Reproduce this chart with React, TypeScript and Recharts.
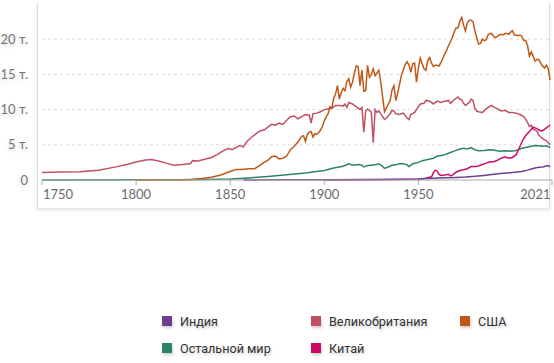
import React from 'react';
import { LineChart, Line, XAxis, YAxis, CartesianGrid } from 'recharts';

type Pt = [number, number];

const xTicks = [1750, 1800, 1850, 1900, 1950, 2021];
const yTicks = [0, 5, 10, 15, 20];

const indiaSeries: Pt[] = [
  [1857, 0], [1870, 0.02], [1880, 0.03], [1900, 0.05], [1920, 0.08], [1940, 0.1], [1950, 0.15],
  [1960, 0.27], [1970, 0.37], [1975, 0.42], [1980, 0.52], [1985, 0.65], [1990, 0.8], [1995, 0.95],
  [2000, 1.05], [2005, 1.2], [2008, 1.4], [2010, 1.55], [2012, 1.7], [2014, 1.8], [2016, 1.85],
  [2018, 2.0], [2019, 2.05], [2020, 1.85],
];

const ukSeries: Pt[] = [
  [1750, 1.08], [1760, 1.12], [1770, 1.18], [1780, 1.4], [1790, 1.9], [1795, 2.2], [1800, 2.55],
  [1805, 2.85], [1808, 2.9], [1812, 2.7], [1816, 2.4], [1820, 2.1], [1825, 2.2], [1829, 2.35],
  [1830, 2.75], [1833, 2.7], [1836, 2.9], [1840, 3.2], [1843, 3.6], [1846, 4.1], [1849, 4.5],
  [1851, 4.3], [1853, 4.6], [1855, 4.9], [1857, 4.7], [1859, 5.5], [1861, 6.0], [1863, 6.4],
  [1866, 7.0], [1868, 7.1], [1870, 7.5], [1872, 7.9], [1874, 7.8], [1876, 8.1], [1878, 7.9],
  [1880, 8.5], [1882, 9.0], [1884, 9.1], [1886, 8.7], [1888, 9.0], [1890, 9.3], [1892, 9.2],
  [1893, 8.1], [1894, 9.4], [1896, 9.5], [1898, 9.7], [1900, 10.0], [1902, 10.1], [1904, 10.2],
  [1906, 10.6], [1908, 10.6], [1910, 10.5], [1911, 10.8], [1912, 10.3], [1913, 11.0], [1915, 10.8],
  [1917, 10.4], [1919, 10.0], [1920, 10.3], [1921, 6.8], [1922, 9.8], [1923, 10.1], [1924, 9.9],
  [1925, 9.6], [1926, 5.3], [1927, 10.0], [1928, 9.6], [1929, 9.8], [1930, 9.4], [1931, 9.0],
  [1932, 8.6], [1933, 8.8], [1935, 9.4], [1936, 9.9], [1937, 9.8], [1938, 9.4], [1940, 9.3],
  [1942, 9.5], [1944, 8.8], [1945, 8.6], [1946, 9.3], [1948, 9.6], [1950, 10.4], [1951, 10.8],
  [1953, 10.9], [1954, 11.3], [1956, 11.2], [1958, 10.8], [1960, 11.2], [1962, 11.0], [1964, 11.2],
  [1966, 11.3], [1967, 10.9], [1969, 11.4], [1971, 11.8], [1972, 11.5], [1973, 11.4], [1974, 10.9],
  [1975, 10.6], [1977, 11.0], [1978, 11.5], [1979, 11.3], [1980, 10.2], [1981, 9.8], [1982, 9.7],
  [1984, 9.6], [1986, 10.1], [1987, 10.3], [1989, 10.6], [1990, 10.4], [1992, 10.1], [1994, 9.8],
  [1996, 9.9], [1998, 9.6], [2000, 9.6], [2002, 9.5], [2004, 9.3], [2006, 9.0], [2007, 8.6],
  [2008, 8.2], [2009, 7.6], [2010, 7.8], [2011, 7.2], [2012, 7.1], [2013, 6.9], [2014, 6.4],
  [2015, 6.1], [2016, 5.9], [2017, 5.7], [2018, 5.6], [2019, 5.3], [2020, 5.0],
];

const usaSeries: Pt[] = [
  [1800, 0], [1825, 0.05], [1830, 0.1], [1835, 0.2], [1840, 0.4], [1845, 0.7], [1850, 1.2],
  [1853, 1.5], [1856, 1.5], [1860, 1.6], [1863, 1.6], [1866, 2.1], [1868, 2.5], [1870, 2.8],
  [1872, 3.3], [1874, 3.4], [1876, 3.0], [1878, 3.1], [1880, 3.4], [1882, 4.3], [1884, 4.8],
  [1886, 5.4], [1888, 6.2], [1889, 6.3], [1890, 5.5], [1891, 6.5], [1892, 6.8], [1893, 6.9],
  [1894, 6.1], [1895, 6.6], [1896, 6.5], [1897, 6.7], [1898, 7.1], [1899, 7.6], [1900, 8.4],
  [1901, 9.0], [1902, 9.4], [1903, 10.4], [1904, 10.2], [1905, 11.6], [1906, 12.2], [1907, 13.4],
  [1908, 11.5], [1909, 12.4], [1910, 13.0], [1911, 12.7], [1912, 14.0], [1913, 14.4], [1914, 13.2],
  [1915, 13.9], [1916, 15.2], [1917, 16.2], [1918, 16.1], [1919, 13.4], [1920, 15.6], [1921, 12.6],
  [1922, 12.7], [1923, 16.3], [1924, 14.6], [1925, 15.0], [1926, 15.8], [1927, 14.8], [1928, 15.2],
  [1929, 15.6], [1930, 13.9], [1931, 11.8], [1932, 9.7], [1933, 10.2], [1934, 10.8], [1935, 11.3],
  [1936, 12.8], [1937, 13.4], [1938, 11.3], [1939, 12.3], [1940, 13.6], [1941, 14.9], [1942, 15.6],
  [1943, 16.4], [1944, 16.8], [1945, 16.3], [1946, 15.3], [1947, 16.5], [1948, 16.6], [1949, 13.9],
  [1950, 15.9], [1951, 17.3], [1952, 16.5], [1953, 15.8], [1954, 15.6], [1955, 17.0], [1956, 17.4],
  [1957, 16.6], [1958, 16.1], [1959, 16.3], [1960, 16.3], [1961, 16.2], [1962, 16.7], [1963, 17.3],
  [1964, 17.9], [1965, 18.4], [1966, 19.1], [1967, 19.6], [1968, 20.2], [1969, 21.0], [1970, 21.6],
  [1971, 21.6], [1972, 22.5], [1973, 23.1], [1974, 22.0], [1975, 21.2], [1976, 22.3], [1977, 22.7],
  [1978, 22.7], [1979, 22.5], [1980, 21.2], [1981, 20.2], [1982, 19.3], [1983, 19.4], [1984, 20.0],
  [1985, 19.8], [1986, 19.9], [1987, 20.6], [1988, 20.8], [1989, 20.8], [1990, 20.4], [1991, 20.2],
  [1992, 20.4], [1993, 20.6], [1994, 20.7], [1995, 20.6], [1996, 20.8], [1997, 20.8], [1998, 20.7],
  [1999, 21.0], [2000, 21.2], [2001, 20.6], [2002, 20.6], [2003, 20.5], [2004, 20.6], [2005, 20.4],
  [2006, 19.8], [2007, 19.8], [2008, 19.1], [2009, 17.6], [2010, 18.2], [2011, 17.6], [2012, 16.9],
  [2013, 17.1], [2014, 17.1], [2015, 16.6], [2016, 16.2], [2017, 15.9], [2018, 16.3], [2019, 15.8],
  [2020, 14.2],
];

const restSeries: Pt[] = [
  [1750, 0], [1800, 0.02], [1830, 0.05], [1850, 0.14], [1860, 0.3], [1870, 0.5], [1880, 0.75],
  [1890, 1.0], [1900, 1.35], [1905, 1.7], [1910, 1.95], [1913, 2.3], [1915, 2.1], [1918, 2.2],
  [1920, 2.1], [1921, 1.85], [1923, 2.05], [1925, 2.1], [1927, 2.15], [1929, 2.3], [1931, 1.95],
  [1932, 1.65], [1934, 1.85], [1936, 2.1], [1938, 2.15], [1940, 2.3], [1942, 2.3], [1944, 2.15],
  [1945, 1.9], [1947, 2.3], [1950, 2.5], [1952, 2.75], [1955, 2.9], [1958, 3.1], [1960, 3.4],
  [1963, 3.5], [1966, 3.8], [1969, 4.1], [1972, 4.4], [1974, 4.5], [1976, 4.4], [1978, 4.6],
  [1980, 4.3], [1982, 4.15], [1985, 4.2], [1988, 4.3], [1990, 4.25], [1993, 4.1], [1996, 4.15],
  [1999, 4.1], [2002, 4.2], [2005, 4.5], [2008, 4.7], [2010, 4.8], [2012, 4.9], [2014, 4.85],
  [2016, 4.8], [2018, 4.85], [2020, 4.6],
];

const chinaSeries: Pt[] = [
  [1900, 0], [1930, 0.03], [1950, 0.1], [1954, 0.25], [1957, 0.45], [1958, 1.05], [1959, 1.4],
  [1960, 1.25], [1961, 0.8], [1962, 0.65], [1964, 0.7], [1966, 0.8], [1967, 0.6], [1968, 0.65],
  [1970, 1.1], [1972, 1.35], [1974, 1.45], [1976, 1.6], [1978, 1.9], [1980, 1.9], [1982, 2.0],
  [1984, 2.2], [1986, 2.4], [1988, 2.6], [1990, 2.6], [1992, 2.8], [1994, 3.1], [1996, 3.3],
  [1998, 3.1], [2000, 3.2], [2002, 3.6], [2003, 4.2], [2004, 4.8], [2005, 5.4], [2006, 5.9],
  [2007, 6.3], [2008, 6.6], [2009, 6.9], [2010, 7.2], [2011, 7.5], [2012, 7.4], [2013, 7.3],
  [2014, 7.1], [2015, 7.0], [2016, 7.0], [2017, 7.2], [2018, 7.4], [2019, 7.6], [2020, 7.8],
];

const series = [
  { name: 'Остальной мир', color: '#2c8465', data: restSeries },
  { name: 'США', color: '#c05917', data: usaSeries },
  { name: 'Великобритания', color: '#c15065', data: ukSeries },
  { name: 'Китай', color: '#cf0a66', data: chinaSeries },
  { name: 'Индия', color: '#6d3e91', data: indiaSeries },
];

const legendRows = [
  [
    { name: 'Индия', color: '#6d3e91' },
    { name: 'Великобритания', color: '#c15065' },
    { name: 'США', color: '#c05917' },
  ],
  [
    { name: 'Остальной мир', color: '#2c8465' },
    { name: 'Китай', color: '#cf0a66' },
  ],
];

const toRows = (d: Pt[]) => d.map(([year, value]) => ({ year, value }));

const XTick = (props: any) => {
  const { x, y, payload } = props;
  const v = payload.value;
  const first = v === xTicks[0];
  const last = v === xTicks[xTicks.length - 1];
  return (
    <text
      x={first ? x + 1 : last ? x - 1.5 : x}
      y={y + 11.5}
      textAnchor={first ? 'start' : last ? 'end' : 'middle'}
      fill="#6b6b6b"
      fontSize={13}
      fontFamily="Lato, sans-serif"
    >
      {v}
    </text>
  );
};

const YTick = (props: any) => {
  const { x, y, payload } = props;
  const v = payload.value;
  return (
    <text
      x={x}
      y={y}
      dy="0.35em"
      textAnchor="end"
      fill="#777"
      fontSize={13}
      fontFamily="Lato, sans-serif"
      style={{ textShadow: '0 2px 4px rgba(0,0,0,0.2)' }}
    >
      {v === 0 ? '0' : `${v} т.`}
    </text>
  );
};

export default function App() {
  return (
    <div style={{ position: 'absolute', left: 0, top: 0, width: 554, height: 363, background: '#fff', overflow: 'hidden' }}>
      <div
        style={{
          position: 'absolute',
          left: 37,
          top: 3,
          width: 511,
          height: 205,
          background: '#fff',
          borderLeft: '1px solid #dcdcdc',
          borderRight: '1px solid #dcdcdc',
          boxShadow: '0 2px 3px rgba(0,0,0,0.12)',
        }}
      />
      <div style={{ position: 'absolute', left: 0, top: 0 }}>
        <LineChart width={554} height={210} margin={{ top: 4, right: 2, left: 0, bottom: 0 }}>
          <CartesianGrid horizontal vertical={false} stroke="#dedede" strokeDasharray="3 3" horizontalValues={[5, 10, 15, 20]} />
          <XAxis
            dataKey="year"
            type="number"
            domain={[1750, 2021]}
            ticks={xTicks}
            interval={0}
            allowDataOverflow
            height={30}
            axisLine={{ stroke: '#a8a8a8' }}
            tickLine={{ stroke: '#a8a8a8' }}
            tickSize={5}
            tickMargin={2}
            tick={<XTick />}
          />
          <YAxis
            type="number"
            domain={[0, 25]}
            ticks={yTicks}
            interval={0}
            width={42}
            axisLine={false}
            tickLine={false}
            tickSize={0}
            tickMargin={14}
            tick={<YTick />}
          />
          {series.map((s) => (
            <Line
              key={s.name}
              data={toRows(s.data)}
              dataKey="value"
              name={s.name}
              type="linear"
              stroke={s.color}
              strokeWidth={1.5}
              dot={false}
              activeDot={false}
              isAnimationActive={false}
            />
          ))}
        </LineChart>
      </div>
      {legendRows.map((row, ri) =>
        row.map((item, ci) => (
          <div
            key={item.name}
            style={{
              position: 'absolute',
              left: 162 + ci * 149,
              top: ri === 0 ? 313 : 340,
              display: 'flex',
              alignItems: 'center',
              height: 16,
              fontFamily: 'Roboto, sans-serif',
              fontSize: 12.6,
              color: '#333',
              whiteSpace: 'nowrap',
              textShadow: '1px 2px 3px rgba(0,0,0,0.2)',
            }}
          >
            <span
              style={{
                display: 'inline-block',
                width: 10,
                height: 10,
                background: item.color,
                marginRight: 8,
                boxShadow: '1px 2px 3px rgba(0,0,0,0.2)',
              }}
            />
            {item.name}
          </div>
        ))
      )}
    </div>
  );
}
